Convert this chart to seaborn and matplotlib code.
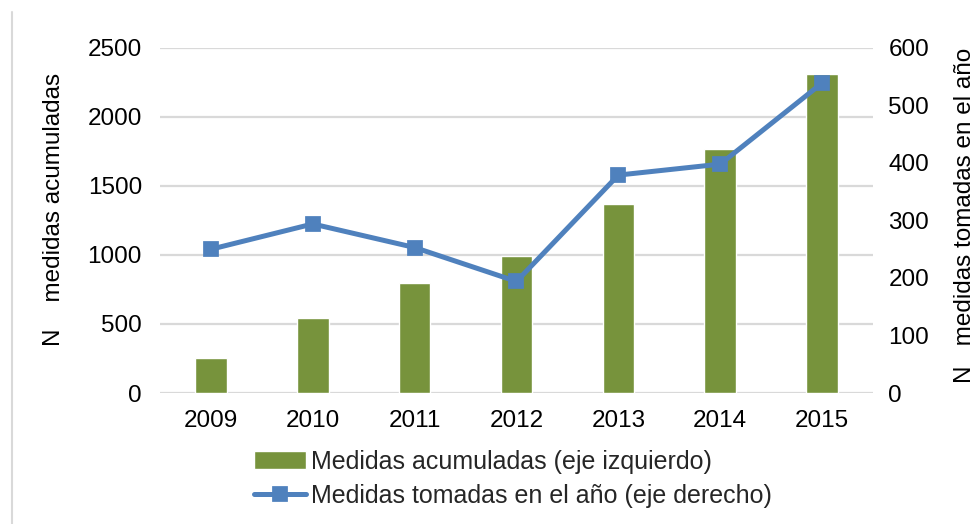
import numpy as np
import pandas as pd
import seaborn as sns
import matplotlib.pyplot as plt
from matplotlib.lines import Line2D

sns.set_theme(style="white")
plt.rcParams['font.family'] = ['Liberation Sans', 'DejaVu Sans']

years = ['2009', '2010', '2011', '2012', '2013', '2014', '2015']
acumuladas = [250, 540, 800, 990, 1370, 1770, 2310]
tomadas = [250, 294, 253, 194, 379, 398, 539]

bar_color = '#77933C'
line_color = '#4F81BD'
grid_color = '#D9D9D9'

df = pd.DataFrame({'year': years, 'acumuladas': acumuladas, 'tomadas': tomadas})

fig = plt.figure(figsize=(9.79, 5.24), dpi=100)
ax = fig.add_axes([0.1634, 0.25, 0.7283, 0.6584])
ax2 = ax.twinx()

sns.barplot(data=df, x='year', y='acumuladas', ax=ax, color=bar_color,
            saturation=1, width=0.31, label='Medidas acumuladas (eje izquierdo)')
sns.pointplot(data=df, x='year', y='tomadas', ax=ax2, color=line_color,
              markers='s', markersize=9, linewidth=3.6,
              label='Medidas tomadas en el año (eje derecho)')

ax.set_ylim(0, 2500)
ax.set_yticks(np.arange(0, 2501, 500))
ax2.set_ylim(0, 600)
ax2.set_yticks(np.arange(0, 601, 100))
ax.set_xlim(-0.5, len(years) - 0.5)

ax.yaxis.grid(True, color=grid_color, linewidth=1.6)
ax.set_axisbelow(True)
ax2.grid(False)
for a in (ax, ax2):
    for s in a.spines.values():
        s.set_visible(False)
    a.tick_params(length=0, labelsize=17.5, colors='black')
ax.tick_params(axis='y', pad=13)
ax.tick_params(axis='x', pad=12)
ax2.tick_params(axis='y', pad=11)

ax.set_xlabel('')
ax.set_ylabel('N    medidas acumuladas', fontsize=17.5, color='black')
ax.yaxis.set_label_coords(-0.133, 0.533)
ax2.set_ylabel('N   medidas tomadas en el año', fontsize=17.5, color='black')
ax2.yaxis.set_label_coords(1.114, 0.514)

h1, l1 = ax.get_legend_handles_labels()
h2, l2 = ax2.get_legend_handles_labels()
if ax2.get_legend() is not None:
    ax2.get_legend().remove()
if ax.get_legend() is not None:
    ax.get_legend().remove()
fig.legend(h1 + h2, l1 + l2, loc='center', bbox_to_anchor=(0.524, 0.086),
           frameon=False, fontsize=18, handlelength=2.1, handletextpad=0.2,
           labelspacing=0.4)

fig.add_artist(Line2D([0.0118, 0.0118], [0.0, 0.977], color=grid_color,
                      linewidth=1.5, transform=fig.transFigure))

fig.savefig('out.png', dpi=100, facecolor='white')
